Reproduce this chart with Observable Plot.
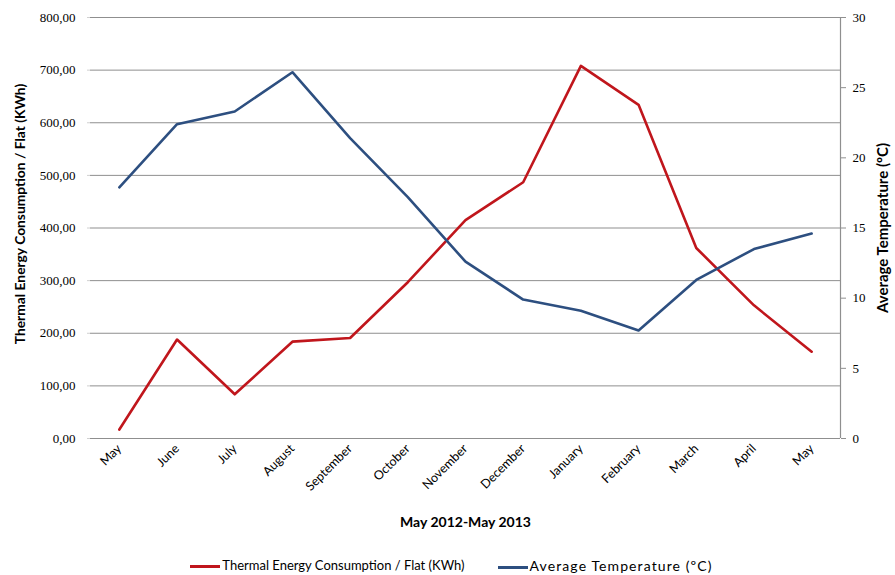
<!DOCTYPE html>
<html>
<head>
<meta charset="utf-8">
<script src="https://cdn.jsdelivr.net/npm/d3@7"></script>
<script src="https://cdn.jsdelivr.net/npm/@observablehq/plot@0.6"></script>
<style>
  body { margin: 0; background: #fff; }
  #chart { width: 895px; }
  .legend { display: flex; justify-content: center; align-items: center; gap: 33px; height: 30px; margin-top: 5px;
    font-family: Lato, "Open Sans", sans-serif; font-size: 13px; color: #000; padding-left: 8px; }
  .legend span.sw { display: inline-block; width: 30px; height: 3px; vertical-align: middle; margin-right: 2px; }
  .legend .t2 { letter-spacing: 1.1px; font-size: 14px; }
</style>
</head>
<body>
<div id="chart"></div>
<script>
const months = ["May","June","July","August","September","October","November","December","January","February","March","April","May"];
const consumption = [17, 188, 84, 184, 191, 297, 415, 487, 708, 634, 362, 253, 165];
const temperature = [17.9, 22.4, 23.3, 26.1, 21.4, 17.2, 12.6, 9.9, 9.1, 7.7, 11.3, 13.5, 14.6];
const leftTicks = [0, 100, 200, 300, 400, 500, 600, 700, 800];
const rightTicks = [0, 5, 10, 15, 20, 25, 30];
const seriesNames = ["Thermal Energy Consumption / Flat (KWh)", "Average Temperature (ºC)"];
const xTitle = "May 2012-May 2013";

const red = "#c0161c";
const blue = "#2d4f80";
const k = 800 / 30;

const consData = months.map((m, i) => ({i, v: consumption[i]}));
const tempData = months.map((m, i) => ({i, v: temperature[i] * k}));

const fmtLeft = d => d.toFixed(2).replace(".", ",");

const plot = Plot.plot({
  width: 895,
  height: 545,
  marginLeft: 90,
  marginRight: 55,
  marginTop: 17,
  marginBottom: 107,
  style: { fontFamily: "Lato, 'Open Sans', sans-serif", fontSize: "12px", color: "#000" },
  x: { domain: [-0.5, 12.5] },
  y: { domain: [0, 800] },
  marks: [
    Plot.ruleY(leftTicks.slice(1), { stroke: "#8f8f8f", strokeWidth: 1 }),
    Plot.ruleY([0], { stroke: "#8f8f8f", strokeWidth: 1.2 }),
    Plot.ruleX([12.5], { stroke: "#8f8f8f", strokeWidth: 1.2 }),
    Plot.axisY({ ticks: leftTicks, tickFormat: fmtLeft, tickSize: 3, tickPadding: 12, label: null, stroke: "#d0d0d0",
      fontSize: 13, fontFamily: "'Liberation Serif', serif" }),
    Plot.axisY({ anchor: "right", ticks: rightTicks.map(t => t * k), tickFormat: d => String(Math.round(d / k)),
      tickSize: 5, tickPadding: 7, label: null, stroke: "#8f8f8f", fontSize: 13, fontFamily: "'Liberation Serif', serif" }),
    Plot.axisX({ ticks: d3.range(months.length), tickFormat: i => months[i], tickRotate: -45, tickSize: 0,
      tickPadding: 8, label: null, fontSize: 12.5 }),
    Plot.line(consData, { x: "i", y: "v", stroke: red, strokeWidth: 2.6 }),
    Plot.line(tempData, { x: "i", y: "v", stroke: blue, strokeWidth: 2.6 }),
    Plot.text([xTitle], { frameAnchor: "bottom", dy: 88, fontWeight: "bold", fontSize: 14, text: d => d }),
    Plot.text([seriesNames[0]], { frameAnchor: "left", textAnchor: "middle", dx: -70, dy: -14, rotate: -90,
      fontWeight: "bold", fontSize: 13.8, text: d => d }),
    Plot.text([seriesNames[1]], { frameAnchor: "right", textAnchor: "middle", dx: 43, dy: 0, rotate: -90,
      fontWeight: "bold", fontSize: 15, text: d => d })
  ]
});

const chart = document.getElementById("chart");
chart.appendChild(plot);
const legend = document.createElement("div");
legend.className = "legend";
legend.innerHTML = `<div><span class="sw" style="background:${red}"></span>${seriesNames[0]}</div>` +
  `<div><span class="sw" style="background:${blue}"></span><span class="t2">${seriesNames[1]}</span></div>`;
chart.appendChild(legend);
</script>
</body>
</html>
